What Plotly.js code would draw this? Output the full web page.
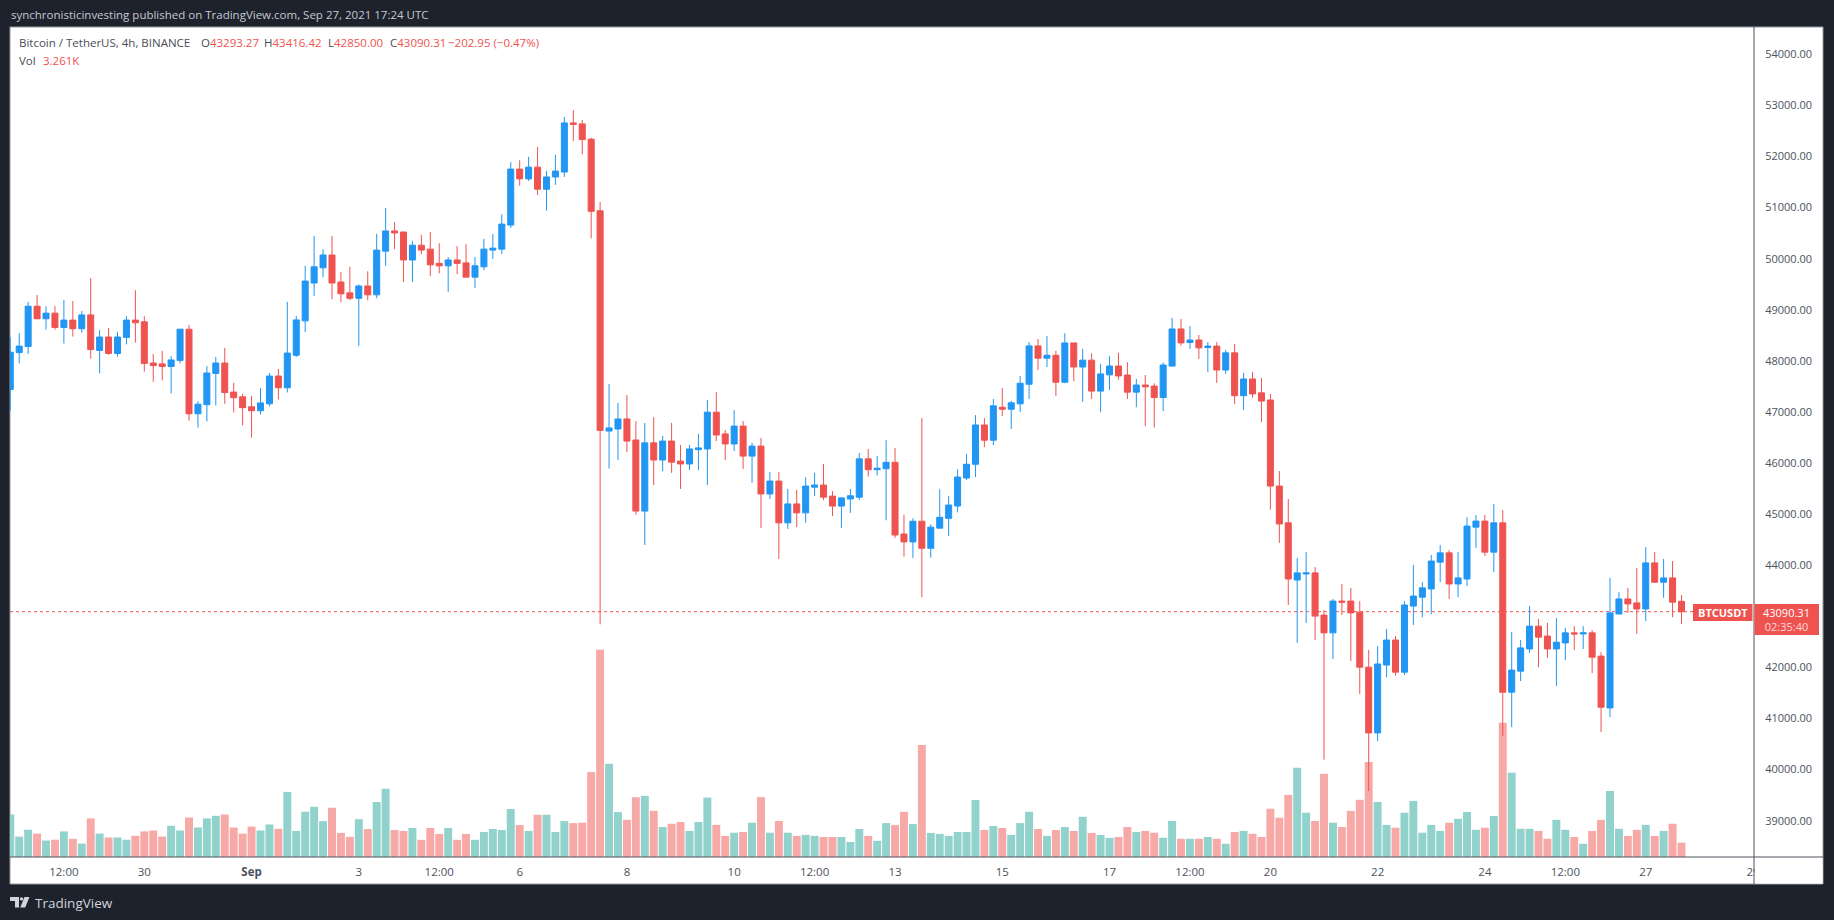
<!DOCTYPE html>
<html>
<head>
<meta charset="utf-8">
<script src="https://cdn.plot.ly/plotly-3.0.1.min.js"></script>
<style>
html,body{margin:0;padding:0;background:#1e222d;}
#chart{width:1834px;height:920px;}
</style>
</head>
<body>
<div id="chart"></div>
<script>
// ---------------- DATA (BTCUSDT, 4h candles, Binance) ----------------
const firstCandle = '2021-08-27T12:00:00';
const candleHours = 4;

const openP = [
47440,48162,48281,49070,48824,48934,48654,48798,48629,48900,48204,48467,48145,48459,48798,48764,47958,47941,47890,48009,
48620,46965,47143,47754,47958,47389,47296,47101,47024,47160,47703,47474,48110,48783,49524,49822,50072,49543,49331,49225,
49466,49293,50148,50543,50523,49975,50264,50187,49908,49860,49975,49918,49639,49841,50168,50187,50658,51754,51562,51792,
51360,51600,51696,52658,52638,52340,50937,46626,46667,46863,46451,45060,46395,46059,46430,46038,45982,46262,46276,46996,
46570,46374,46723,46136,46332,45395,45647,44829,45200,45025,45528,45570,45353,45158,45297,45332,46082,45870,45889,46014,
44611,44457,44861,44332,44726,44918,45159,45707,45976,46745,46447,47091,47053,47159,47543,48293,48053,48110,47582,48351,
47880,48014,47408,47726,47899,47723,47388,47527,47506,47283,47898,48625,48359,48408,48262,48289,47821,48157,47318,47646,
47374,47234,45549,44829,43710,43829,43850,43025,42676,43298,43298,43081,42004,40718,42046,42536,41907,43200,43375,43536,
44060,44242,43633,43731,44745,44864,44256,44829,41515,41927,42361,42808,42613,42361,42480,42676,42655,42676,42221,41207,
43046,43340,43263,43144,44046,43668,43752,43293.27];

const highP = [
48459,48544,49155,49291,49070,49070,49189,49172,48977,49622,48603,48646,48569,48875,49384,48875,48136,48196,48094,48620,
48705,47211,47899,48077,48255,47568,47355,47313,47466,47763,47839,49155,48879,49860,50446,50187,50446,49735,49841,49495,
49754,50485,50994,50716,50523,50350,50466,50523,50302,50033,50245,50283,50033,50389,50485,50869,51889,51927,51994,52187,
51715,52033,52773,52908,52715,52369,51110,47548,47178,47332,46821,46786,46898,46528,46786,46353,46353,46570,47234,47388,
46647,47038,46821,46395,46493,45822,45822,45493,45472,45724,45808,45982,45451,45332,45493,46197,46274,46140,46447,46293,
44986,44918,46880,44803,45486,45351,45880,46178,46937,46880,47255,47466,47216,47707,48370,48428,48485,48197,48543,48351,
48235,48149,47937,48091,48157,47975,47646,47723,47562,47968,48842,48821,48681,48506,48366,48366,48213,48331,47765,47779,
47667,47353,45843,45297,44144,44256,43962,43123,43340,43633,43557,43298,42340,42417,42752,42613,43298,44004,43668,44200,
44396,44298,44256,44941,44983,44983,45199,45081,42690,42536,43200,42948,42871,42969,42774,42808,42808,42731,42298,43752,
43473,43557,43948,44353,44256,44123,44081,43416.42];

const lowP = [
47024,47950,48136,48824,48612,48612,48340,48476,48552,48043,47754,48119,48085,48323,48357,47788,47593,47618,47364,47950,
46829,46693,46812,47126,47160,46990,46736,46498,46948,47109,47245,47381,48072,48562,49273,49639,49206,49149,49187,48293,
49187,49225,49860,50187,49543,49543,50091,49658,49716,49350,49697,49639,49427,49774,49995,50091,50600,51427,51523,51244,
50937,51446,51600,52302,52042,50398,42842,45892,46059,46213,44990,44395,45570,45843,45808,45493,45864,45864,45570,46430,
46059,46234,45885,45612,44731,45297,44123,44710,44745,44829,45353,45276,44962,44731,45025,45274,45736,45755,44880,44534,
44169,44140,43371,44149,44726,44572,45034,45668,45726,46312,46351,46918,46668,46995,47255,47822,47880,47312,47562,47601,
47197,47255,46995,47428,47632,47255,47094,46723,46695,47017,47898,48296,48234,48038,47779,47569,47744,47157,47038,47276,
46800,45088,44437,43221,42480,42871,42536,40194,42165,43025,42123,41480,39579,40557,41809,41837,41851,42829,42983,43039,
43668,43340,43375,43591,44340,44179,43864,40655,40830,41732,42284,42004,42186,41634,42144,42340,42361,41886,40732,41026,
43039,43067,42655,42906,43654,43361,42983,42850.00];

const closeP = [
48170,48289,49070,48824,48934,48654,48798,48629,48900,48221,48467,48145,48467,48798,48747,47950,47907,47890,48018,48620,
46965,47152,47763,47958,47381,47279,47084,47024,47177,47703,47474,48153,48802,49562,49841,50072,49524,49312,49225,49466,
49293,50168,50543,50504,49975,50264,50168,49879,49860,49975,49908,49639,49860,50187,50206,50677,51754,51562,51792,51360,
51600,51715,52658,52629,52331,50927,46639,46688,46863,46430,45060,46395,46059,46430,46017,45982,46276,46297,46996,46549,
46374,46723,46136,46332,45395,45647,44829,45200,45025,45549,45570,45332,45158,45318,45360,46082,45870,45899,46014,44592,
44457,44861,44332,44745,44938,45178,45726,45976,46745,46447,47120,47053,47178,47562,48293,48053,48110,47582,48351,47880,
48014,47408,47745,47899,47705,47388,47527,47492,47283,47919,48625,48352,48408,48255,48289,47821,48157,47318,47646,47353,
47213,45549,44808,43731,43850,43850,43004,42676,43298,43277,43067,42004,40718,42067,42536,41907,43221,43396,43557,44081,
44242,43633,43752,44766,44864,44256,44829,41515,41948,42382,42808,42592,42361,42494,42676,42655,42676,42200,41221,43067,
43340,43242,43144,44046,43668,43752,43277,43090.31];

// volume in thousands of BTC
const volumeK = [
9.66,4.64,6.20,5.32,3.75,3.93,5.82,4.14,3.05,8.77,5.32,4.43,4.43,3.93,4.82,5.82,6.02,4.64,7.09,6.02,
8.98,6.70,8.77,9.36,9.66,6.70,5.32,6.91,6.02,7.39,6.41,14.8,5.92,10.3,11.4,8.15,11.2,5.47,4.58,8.60,
6.36,12.5,15.5,6.14,5.92,6.59,3.91,6.59,5.25,6.59,3.91,5.25,3.91,5.69,6.36,6.14,10.9,7.26,5.92,9.60,
9.60,5.69,8.15,7.70,7.80,19.3,47.1,21.2,10.2,8.44,13.6,13.9,10.5,6.82,7.55,7.95,5.93,7.95,13.5,7.30,
4.79,5.52,5.68,7.79,13.6,5.52,8.20,5.52,4.79,5.03,4.79,4.55,4.55,4.55,3.41,6.36,4.80,3.68,7.70,7.26,
10.27,7.48,25.45,5.47,5.25,4.80,5.69,5.69,12.95,6.14,7.03,6.59,5.02,7.70,10.27,6.36,4.80,6.14,6.81,5.92,
9.15,5.47,5.02,4.35,4.55,6.82,5.68,5.93,5.52,4.38,8.20,4.14,4.14,4.14,4.55,4.14,3.00,5.68,5.93,5.28,
4.55,10.96,8.93,14.12,20.3,10.06,8.20,18.9,7.79,6.82,10.47,12.99,21.6,12.5,7.30,6.66,10.06,12.74,5.52,7.30,
5.93,7.79,8.68,10.23,6.17,6.66,9.33,30.5,19.16,6.41,6.41,5.93,4.14,8.44,6.17,4.55,3.00,5.93,8.44,15.0,
6.41,4.79,6.17,7.30,4.79,5.93,7.55,3.261];

// axis ticks (43000.00 is hidden behind the last-price label in the reference)
const priceTicks = [39000,40000,41000,42000,44000,45000,46000,47000,48000,49000,50000,51000,52000,53000,54000];
const timeTickVals = ['2021-08-28 12:00','2021-08-30','2021-09-01','2021-09-03','2021-09-04 12:00','2021-09-06',
  '2021-09-08','2021-09-10','2021-09-11 12:00','2021-09-13','2021-09-15','2021-09-17','2021-09-18 12:00',
  '2021-09-20','2021-09-22','2021-09-24','2021-09-25 12:00','2021-09-27','2021-09-29'];
const timeTickText = ['12:00','30','<b>Sep</b>','3','12:00','6','8','10','12:00','13','15','17','12:00',
  '20','22','24','12:00','27','29'];

// header / legend text
const headerText = 'synchronisticinvesting published on TradingView.com, Sep 27, 2021 17:24 UTC';
const symbolText = 'Bitcoin / TetherUS, 4h, BINANCE';
const changeText = '\u2212202.95 (\u22120.47%)';
const volText = '3.261K';
const countdownText = '02:35:40';

// ---------------- BUILD ----------------
const n = openP.length;
const t0 = Date.parse(firstCandle + 'Z');
const pad = v => String(v).padStart(2, '0');
const times = [];
for (let i = 0; i < n; i++) {
  const d = new Date(t0 + i * candleHours * 3600000);
  times.push(d.getUTCFullYear() + '-' + pad(d.getUTCMonth() + 1) + '-' + pad(d.getUTCDate()) + ' ' + pad(d.getUTCHours()) + ':00');
}
const UP = '#2196f3', DN = '#ef5350';
const volColors = closeP.map((c, i) => c >= openP[i] ? '#92d2cc' : '#f7a9a7');
const last = n - 1;

// pixel -> paper helpers (plot area: x 10..1754, y 27..857)
const PL = 10, PR = 1754, PT = 27, PB = 857;
const px = x => (x - PL) / (PR - PL);
const py = y => (PB - y) / (PB - PT);
const path = pts => 'M' + pts.map(p => px(p[0]) + ',' + py(p[1])).join('L') + 'Z';

const FONT = "'Open Sans', 'Liberation Sans', sans-serif";

const volTrace = {
  type: 'bar', x: times, y: volumeK, yaxis: 'y',
  width: candleHours * 3600000 * 0.89,
  marker: {color: volColors, line: {width: 0}},
  hoverinfo: 'skip', showlegend: false
};
const candleTrace = {
  type: 'candlestick', x: times, open: openP, high: highP, low: lowP, close: closeP,
  yaxis: 'y2', whiskerwidth: 0,
  increasing: {line: {color: UP, width: 1}, fillcolor: UP},
  decreasing: {line: {color: DN, width: 1}, fillcolor: DN},
  hoverinfo: 'none', showlegend: false
};

const shapes = [
  // white panel
  {type: 'rect', xref: 'paper', yref: 'paper', x0: px(10), x1: px(1823), y0: py(27), y1: py(884),
   fillcolor: '#ffffff', line: {color: '#9598a1', width: 1}, layer: 'below'},
  // last price dotted line
  {type: 'line', xref: 'paper', yref: 'y2', x0: 0, x1: px(1693), y0: closeP[last], y1: closeP[last],
   line: {color: DN, width: 1, dash: 'dot'}, layer: 'below'},
  // clip area for time labels under price scale
  {type: 'rect', xref: 'paper', yref: 'paper', x0: px(1754.5), x1: px(1822.5), y0: py(858), y1: py(883.5),
   fillcolor: '#ffffff', line: {width: 0}, layer: 'above'},
  // axis borders
  {type: 'line', xref: 'paper', yref: 'paper', x0: px(10), x1: px(1823), y0: py(857), y1: py(857),
   line: {color: '#50535e', width: 1}, layer: 'above'},
  {type: 'line', xref: 'paper', yref: 'paper', x0: px(1754), x1: px(1754), y0: py(27), y1: py(884),
   line: {color: '#50535e', width: 1}, layer: 'above'},
  // symbol label + price label
  {type: 'rect', xref: 'paper', yref: 'paper', x0: px(1693), x1: px(1752.5), y0: py(604), y1: py(621),
   fillcolor: DN, line: {width: 0}, layer: 'above'},
  {type: 'rect', xref: 'paper', yref: 'paper', x0: px(1754.5), x1: px(1819), y0: py(604), y1: py(635),
   fillcolor: DN, line: {width: 0}, layer: 'above'},
  // TradingView logo
  {type: 'path', xref: 'paper', yref: 'paper', path: path([[10,897],[19,897],[19,907.5],[15,907.5],[15,901],[10,901]]),
   fillcolor: '#d1d4dc', line: {width: 0}, layer: 'above'},
  {type: 'circle', xref: 'paper', yref: 'paper', x0: px(19.8), x1: px(23.2), y0: py(897.2), y1: py(900.6),
   fillcolor: '#d1d4dc', line: {width: 0}, layer: 'above'},
  {type: 'path', xref: 'paper', yref: 'paper', path: path([[24.5,897],[29.5,897],[25.2,907.5],[20.2,907.5]]),
   fillcolor: '#d1d4dc', line: {width: 0}, layer: 'above'}
];

const red = s => '<span style="color:#ef5350">' + s + '</span>';
const ann = (x, y, text, size, color, anchor) => ({
  xref: 'paper', yref: 'paper', x: px(x), y: py(y), text: text, showarrow: false,
  xanchor: anchor || 'left', yanchor: 'middle', font: {family: FONT, size: size, color: color}
});
const annotations = [
  ann(9, 15, headerText, 11.5, '#c5c8d0'),
  ann(17, 42.7, symbolText, 11.5, '#4a4d57'),
  ann(199, 42.7, 'O' + red(openP[last].toFixed(2)), 11.5, '#4a4d57'),
  ann(262, 42.7, 'H' + red(highP[last].toFixed(2)), 11.5, '#4a4d57'),
  ann(326, 42.7, 'L' + red(lowP[last].toFixed(2)), 11.5, '#4a4d57'),
  ann(388, 42.7, 'C' + red(closeP[last].toFixed(2)), 11.5, '#4a4d57'),
  ann(446, 42.7, changeText, 11.5, DN),
  ann(17, 60, 'Vol', 11.5, '#4a4d57'),
  ann(41, 60, volText, 11.5, DN),
  ann(1723, 612.5, '<b>BTCUSDT</b>', 11, '#ffffff', 'center'),
  ann(1786.5, 619.5, closeP[last].toFixed(2) + '<br><span style="color:#fcd9d8">' + countdownText + '</span>', 11, '#ffffff', 'center'),
  ann(33, 902.5, 'TradingView', 13.5, '#d1d4dc')
];

const layout = {
  width: 1834, height: 920, autosize: false,
  margin: {l: PL, r: 1834 - PR, t: PT, b: 920 - PB, pad: 0},
  paper_bgcolor: '#1e222d', plot_bgcolor: '#ffffff',
  showlegend: false, dragmode: false,
  boxgap: 0.18, boxgroupgap: 0.18,
  xaxis: {
    type: 'date', range: ['2021-08-27 11:53', '2021-09-29 00:27'],
    tickmode: 'array', tickvals: timeTickVals, ticktext: timeTickText,
    showgrid: false, zeroline: false, showline: false,
    ticks: 'outside', ticklen: 4, tickcolor: 'rgba(0,0,0,0)',
    tickfont: {family: FONT, size: 11.5, color: '#4c525e'},
    rangeslider: {visible: false}, fixedrange: true
  },
  yaxis: {range: [0, 830 / 4.4], visible: false, fixedrange: true},
  yaxis2: {
    overlaying: 'y', side: 'right', range: [38289, 54535],
    tickmode: 'array', tickvals: priceTicks, tickformat: '.2f',
    showgrid: false, zeroline: false, showline: false,
    ticks: 'outside', ticklen: 8, tickcolor: 'rgba(0,0,0,0)',
    tickfont: {family: FONT, size: 11, color: '#4c525e'}, fixedrange: true
  },
  shapes: shapes,
  annotations: annotations
};

Plotly.newPlot('chart', [volTrace, candleTrace], layout, {displayModeBar: false, staticPlot: true});
</script>
</body>
</html>
